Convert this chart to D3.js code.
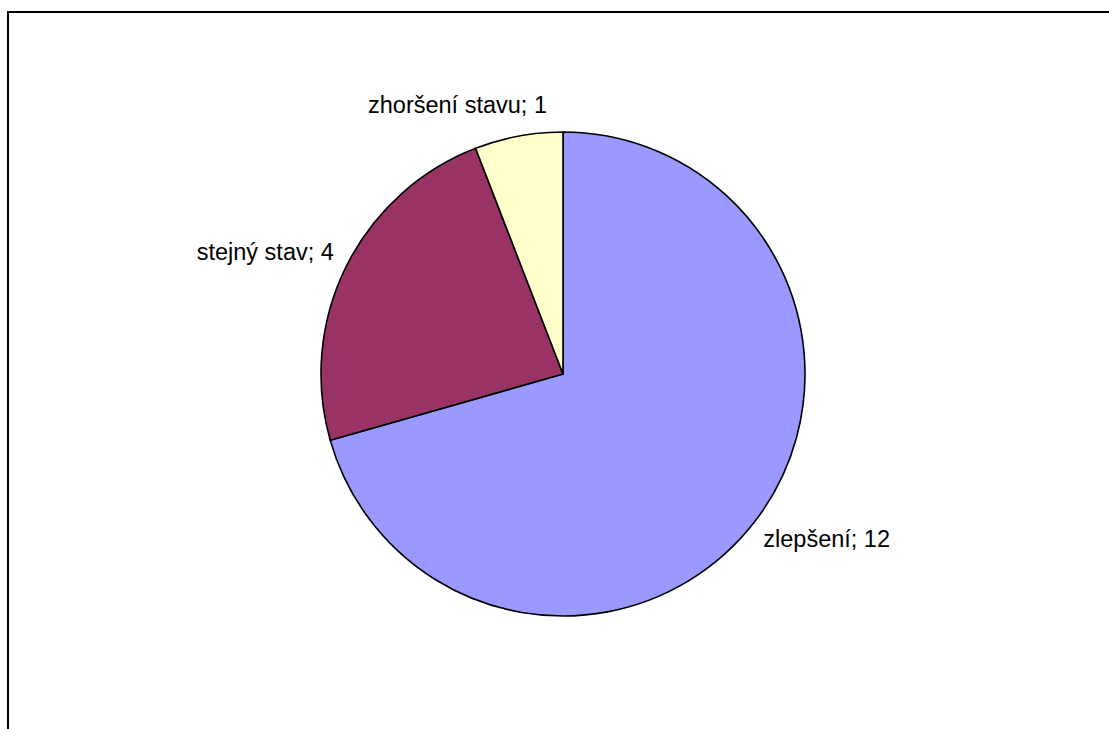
<!DOCTYPE html>
<html>
<head>
<meta charset="utf-8">
<script src="https://cdn.jsdelivr.net/npm/d3@7"></script>
<style>
  body { margin: 0; background: #fff; overflow: hidden; }
  svg text { font-family: "Liberation Sans", Arial, sans-serif; font-size: 23.5px; fill: #000; }
</style>
</head>
<body>
<svg id="chart" width="1109" height="729"></svg>
<script>
// data
const categories = ['zlepšení', 'stejný stav', 'zhoršení stavu'];
const values = [12, 4, 1];
const colors = ['#9999FF', '#993366', '#FFFFCC'];

const W = 1109, H = 729;
const cx = 563, cy = 374, r = 242;

const svg = d3.select('#chart');

// chart area frame (runs off the right and bottom edge)
svg.append('rect')
  .attr('x', 8).attr('y', 12)
  .attr('width', 1200).attr('height', 800)
  .attr('fill', 'none')
  .attr('stroke', '#000')
  .attr('stroke-width', 2);

const pie = d3.pie().sort(null).value(d => d)(values);
const arc = d3.arc().innerRadius(0).outerRadius(r);

const g = svg.append('g').attr('transform', `translate(${cx},${cy})`);

g.selectAll('path')
  .data(pie)
  .join('path')
  .attr('d', arc)
  .attr('fill', (d, i) => colors[i])
  .attr('stroke', '#000')
  .attr('stroke-width', 1.6)
  .attr('stroke-linejoin', 'round');

// labels outside the pie, excel-like placement
const labelR = r + 14;
const nudge = [[-4, 0], [0, 0], [31, 0]];
g.selectAll('text')
  .data(pie)
  .join('text')
  .text((d, i) => `${categories[i]}; ${values[i]}`)
  .attr('text-anchor', d => {
    const a = (d.startAngle + d.endAngle) / 2;
    return Math.sin(a) >= 0 ? 'start' : 'end';
  })
  .attr('x', (d, i) => {
    const a = (d.startAngle + d.endAngle) / 2;
    return Math.sin(a) * labelR + nudge[i][0];
  })
  .attr('y', (d, i) => {
    const a = (d.startAngle + d.endAngle) / 2;
    return -Math.cos(a) * labelR + 8 - 18 * Math.cos(a) + nudge[i][1];
  });
</script>
</body>
</html>
